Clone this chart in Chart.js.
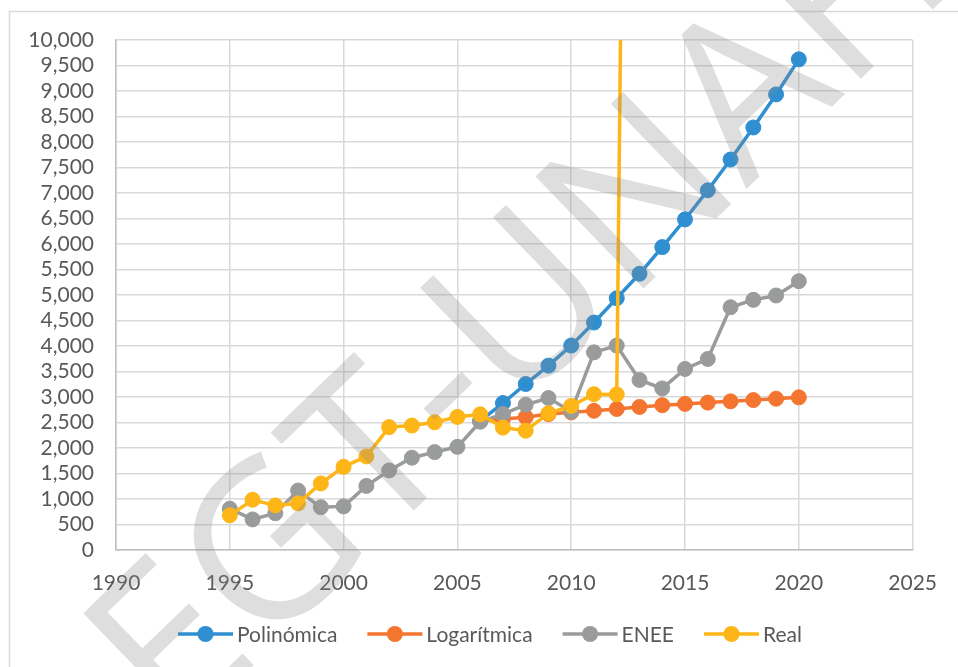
<!DOCTYPE html>
<html>
<head>
<meta charset="utf-8">
<script src="https://cdn.jsdelivr.net/npm/chart.js@4.4.1/dist/chart.umd.min.js"></script>
<style>
  html, body { margin: 0; padding: 0; background: #fff; }
  #wrap { width: 958px; height: 667px; }
</style>
</head>
<body>
<div id="wrap"><canvas id="chart"></canvas></div>
<script>
// series data
const polYears = [2006, 2007, 2008, 2009, 2010, 2011, 2012, 2013, 2014, 2015, 2016, 2017, 2018, 2019, 2020];
const polValues = [2530, 2882, 3255, 3615, 4008, 4460, 4937, 5416, 5939, 6483, 7053, 7656, 8285, 8933, 9621];

const logYears = [2006, 2007, 2008, 2009, 2010, 2011, 2012, 2013, 2014, 2015, 2016, 2017, 2018, 2019, 2020];
const logValues = [2530, 2570, 2605, 2665, 2700, 2730, 2765, 2805, 2840, 2865, 2890, 2915, 2940, 2967, 2993];

const eneeYears = [1995, 1996, 1997, 1998, 1999, 2000, 2001, 2002, 2003, 2004, 2005, 2006, 2007,
  2008, 2009, 2010, 2011, 2012, 2013, 2014, 2015, 2016, 2017, 2018, 2019, 2020];
const eneeValues = [810, 600, 720, 1165, 840, 855, 1257, 1560, 1810, 1920, 2023, 2515, 2666,
  2849, 2980, 2717, 3876, 4008, 3334, 3169, 3550, 3746, 4760, 4905, 4990, 5271];

// 2013 value is far off the scale (only the steep line to it shows)
const realYears = [1995, 1996, 1997, 1998, 1999, 2000, 2001, 2002, 2003, 2004, 2005, 2006, 2007,
  2008, 2009, 2010, 2011, 2012, 2013];
const realValues = [680, 985, 875, 915, 1305, 1630, 1835, 2410, 2440, 2505, 2610, 2660, 2400,
  2340, 2680, 2825, 3055, 3050, 45000];

const seriesNames = ['Polinómica', 'Logarítmica', 'ENEE', 'Real'];
const seriesColors = ['#2F8FD1', '#F47530', '#9A9C9C', '#FDB518'];

const xTicks = [1990, 1995, 2000, 2005, 2010, 2015, 2020, 2025];

const toPoints = (xs, ys) => xs.map((x, i) => ({ x: x, y: ys[i] }));

const TEXT = '#595959';
const FONT = 'Lato';

// outer chart frame
const frame = {
  id: 'frame',
  beforeDraw(chart) {
    const ctx = chart.ctx;
    ctx.save();
    ctx.strokeStyle = '#d9d9d9';
    ctx.lineWidth = 1.5;
    ctx.strokeRect(9.5, 11.5, 980, 700);
    ctx.restore();
  }
};

// Excel style legend: short line with a marker in the middle
const lineLegend = {
  id: 'lineLegend',
  afterDraw(chart) {
    const ctx = chart.ctx;
    const y = 634;
    let x = 178;
    ctx.save();
    ctx.font = '21px ' + FONT;
    ctx.textBaseline = 'middle';
    chart.data.datasets.forEach((ds) => {
      ctx.strokeStyle = ds.borderColor;
      ctx.lineWidth = 3.5;
      ctx.beginPath();
      ctx.moveTo(x, y);
      ctx.lineTo(x + 55, y);
      ctx.stroke();
      ctx.fillStyle = ds.borderColor;
      ctx.beginPath();
      ctx.arc(x + 27.5, y, 8, 0, Math.PI * 2);
      ctx.fill();
      ctx.fillStyle = TEXT;
      ctx.fillText(ds.label, x + 59, y + 1);
      x += 59 + ctx.measureText(ds.label).width + 30;
    });
    ctx.restore();
  }
};

// grey diagonal watermark over the whole chart
const watermark = {
  id: 'watermark',
  afterDraw(chart) {
    const ctx = chart.ctx;
    ctx.save();
    ctx.translate(176, 740);
    ctx.rotate(-44 * Math.PI / 180);
    ctx.font = '218px "Open Sans"';
    ctx.fillStyle = 'rgba(140,138,135,0.28)';
    ctx.fillText('EGT-UNAH', 0, 0);
    ctx.restore();
  }
};

// lower order is drawn on top: Real over ENEE over Logarítmica over Polinómica
const makeSet = (i, xs, ys, order) => ({
  label: seriesNames[i],
  data: toPoints(xs, ys),
  borderColor: seriesColors[i],
  backgroundColor: seriesColors[i],
  borderWidth: 3.5,
  pointRadius: 7.5,
  pointBorderWidth: 1,
  pointHoverRadius: 7.5,
  showLine: true,
  tension: 0,
  order: order
});

new Chart(document.getElementById('chart'), {
  type: 'scatter',
  data: {
    datasets: [
      makeSet(0, polYears, polValues, 3),
      makeSet(1, logYears, logValues, 2),
      makeSet(2, eneeYears, eneeValues, 1),
      makeSet(3, realYears, realValues, 0)
    ]
  },
  options: {
    responsive: true,
    maintainAspectRatio: false,
    animation: false,
    layout: { padding: { left: 0, right: 42, top: 40, bottom: 0 } },
    plugins: {
      legend: { display: false },
      tooltip: { enabled: false }
    },
    scales: {
      x: {
        type: 'linear',
        min: 1990,
        max: 2025,
        afterBuildTicks: (scale) => { scale.ticks = xTicks.map(v => ({ value: v })); },
        afterFit: (scale) => { scale.height = 117; },
        ticks: {
          autoSkip: false,
          maxRotation: 0,
          padding: 21,
          color: TEXT,
          font: { family: FONT, size: 21 },
          callback: (v) => String(v)
        },
        grid: { color: '#d9d9d9', lineWidth: 1.5, drawTicks: false },
        border: { color: '#bfbfbf', width: 1.5 }
      },
      y: {
        min: 0,
        max: 10000,
        afterFit: (scale) => { scale.width = 116; },
        ticks: {
          stepSize: 500,
          autoSkip: false,
          padding: 22,
          color: TEXT,
          font: { family: FONT, size: 21 },
          callback: (v) => v.toLocaleString('en-US')
        },
        grid: { color: '#d9d9d9', lineWidth: 1.5, drawTicks: false },
        border: { color: '#bfbfbf', width: 1.5 }
      }
    }
  },
  plugins: [frame, lineLegend, watermark]
});
</script>
</body>
</html>
